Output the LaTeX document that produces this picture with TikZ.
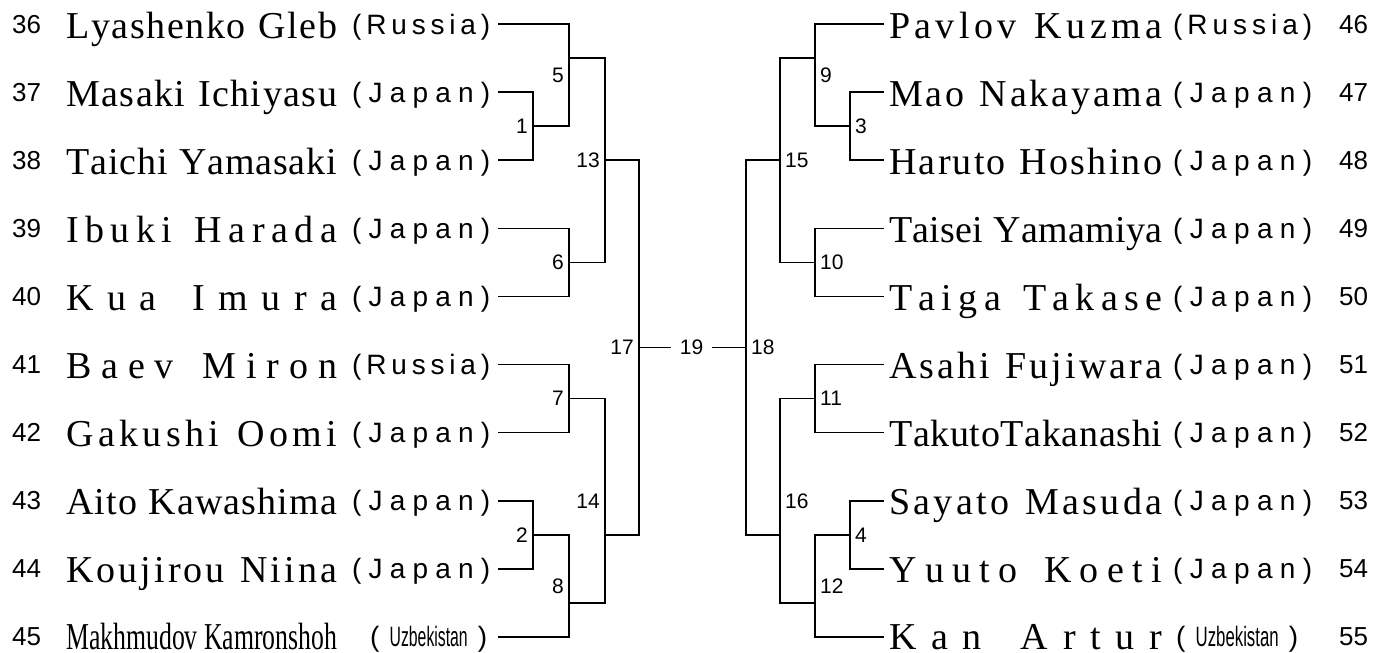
\documentclass[tikz,border=0pt]{standalone}
\usepackage{fontspec}
\usepackage{graphicx}
\setmainfont{Liberation Serif}
\newfontfamily\ctyfont{Liberation Sans}
\makeatletter
\newcommand\spr[2]{\hbox to #1{\@tfor\spr@c:=#2\do{\spr@c\hfil}\unskip}}
\makeatother
\newsavebox\fitbox
\newcommand\xfit[2]{\sbox\fitbox{#2}\pgfmathsetmacro\xfitf{#1/\wd\fitbox}\scalebox{\xfitf}[1]{\usebox\fitbox}}
\tikzset{
  nm/.style={anchor=base west, inner sep=0pt, font=\fontsize{38}{40}\selectfont},
  ct/.style={anchor=base west, inner sep=0pt, font=\ctyfont\fontsize{28}{30}\selectfont},
  num/.style={anchor=base west, inner sep=0pt, font=\ctyfont\fontsize{26}{28}\selectfont},
  lbl/.style={inner sep=0pt, font=\ctyfont\fontsize{21}{23}\selectfont},
  lbll/.style={lbl, anchor=east},
  lblr/.style={lbl, anchor=west},
  br/.style={line width=1.5pt, line join=miter}
}
\newcommand\lrow[4]{%
  \path (12,{24+68.11*#1+9}) node[num] (ln#1) {#2};
  \path (66,{24+68.11*#1+14}) node[nm] (lname#1) {\spr{271pt}{#3}};
  \path (352,{24+68.11*#1+10}) node[ct] (lc#1) {\spr{138pt}{#4}};
  \coordinate (L#1) at (498,{24+68.11*#1});
}
\newcommand\rrow[4]{%
  \coordinate (R#1) at (884,{24+68.11*#1});
  \path (889,{24+68.11*#1+14}) node[nm] (rname#1) {\spr{273pt}{#3}};
  \path (1173,{24+68.11*#1+10}) node[ct] (rc#1) {\spr{139pt}{#4}};
  \path (1339,{24+68.11*#1+9}) node[num] (rn#1) {#2};
}
\begin{document}
\begin{tikzpicture}[x=1pt,y=-1pt]
\useasboundingbox (0,0) rectangle (1376,653);
% left side rows
\lrow{0}{36}{Lyashenko~Gleb}{(Russia)}
\lrow{1}{37}{Masaki~Ichiyasu}{(Japan)}
\lrow{2}{38}{Taichi~Yamasaki}{(Japan)}
\lrow{3}{39}{Ibuki~Harada}{(Japan)}
\lrow{4}{40}{Kua~Imura}{(Japan)}
\lrow{5}{41}{Baev~Miron}{(Russia)}
\lrow{6}{42}{Gakushi~Oomi}{(Japan)}
\lrow{7}{43}{Aito~Kawashima}{(Japan)}
\lrow{8}{44}{Koujirou~Niina}{(Japan)}
\path (12,{24+68.11*9+9}) node[num] (ln9) {45};
\path (66,{24+68.11*9+13}) node[nm] (lname9) {\xfit{271pt}{Makhmudov Kamronshoh}};
\path (370,{24+68.11*9+9.5}) node[ct] (lc9) {\hbox to 117pt{(\hfil\xfit{78pt}{Uzbekistan}\hfil)}};
\coordinate (L9) at (498,{24+68.11*9});
% right side rows
\rrow{0}{46}{Pavlov~Kuzma}{(Russia)}
\rrow{1}{47}{Mao~Nakayama}{(Japan)}
\rrow{2}{48}{Haruto~Hoshino}{(Japan)}
\rrow{3}{49}{Taisei~Yamamiya}{(Japan)}
\rrow{4}{50}{Taiga~Takase}{(Japan)}
\rrow{5}{51}{Asahi~Fujiwara}{(Japan)}
\rrow{6}{52}{TakutoTakanashi}{(Japan)}
\rrow{7}{53}{Sayato~Masuda}{(Japan)}
\rrow{8}{54}{Yuuto~Koeti}{(Japan)}
\coordinate (R9) at (884,{24+68.11*9});
\path (889,{24+68.11*9+13}) node[nm] (rname9) {\spr{273pt}{Kan~Artur}};
\path (1176,{24+68.11*9+9.5}) node[ct] (rc9) {\hbox to 122pt{(\hfil\xfit{83pt}{Uzbekistan}\hfil)}};
\path (1339,{24+68.11*9+9}) node[num] (rn9) {55};
% left match points
\coordinate (m1) at (533,126.17);
\coordinate (m5) at (569,58.06);
\coordinate (m6) at (569,262.39);
\coordinate (m13) at (605,160.22);
\coordinate (m7) at (569,398.61);
\coordinate (m2) at (533,534.83);
\coordinate (m8) at (569,602.94);
\coordinate (m14) at (605,534.83);
\coordinate (m17) at (639,347.5);
% right match points
\coordinate (m3) at (850,126.17);
\coordinate (m9) at (815,58.06);
\coordinate (m10) at (815,262.39);
\coordinate (m15) at (780,160.22);
\coordinate (m11) at (815,398.61);
\coordinate (m4) at (850,534.83);
\coordinate (m12) at (815,602.94);
\coordinate (m16) at (780,534.83);
\coordinate (m18) at (746,347.5);
% left brackets
\draw[br] (L1) -| (m1) |- (L2);
\draw[br] (L0) -| (m5) |- (m1);
\draw[br] (L3) -| (m6) |- (L4);
\draw[br] (m5) -| (m13) |- (m6);
\draw[br] (L5) -| (m7) |- (L6);
\draw[br] (L7) -| (m2) |- (L8);
\draw[br] (m2) -| (m8) |- (L9);
\draw[br] (m7) -| (m14) |- (m8);
\draw[br] (m13) -| (m17) |- (m14);
% right brackets
\draw[br] (R1) -| (m3) |- (R2);
\draw[br] (R0) -| (m9) |- (m3);
\draw[br] (R3) -| (m10) |- (R4);
\draw[br] (m9) -| (m15) |- (m10);
\draw[br] (R5) -| (m11) |- (R6);
\draw[br] (R7) -| (m4) |- (R8);
\draw[br] (m4) -| (m12) |- (R9);
\draw[br] (m11) -| (m16) |- (m12);
\draw[br] (m15) -| (m18) |- (m16);
% final
\node[lbl, inner xsep=9pt] (n19) at (691.5,347.5) {19};
\draw[br] (m17) -- (n19);
\draw[br] (n19) -- (m18);
% left labels
\node[lbll] (lb1) at (528,126.17) {1};
\node[lbll] (lb5) at (564,75.1) {5};
\node[lbll] (lb6) at (564,262.39) {6};
\node[lbll] (lb13) at (600,160.2) {13};
\node[lbll] (lb7) at (564,398.61) {7};
\node[lbll] (lb2) at (528,534.83) {2};
\node[lbll] (lb8) at (564,586.5) {8};
\node[lbll] (lb14) at (600,501.3) {14};
\node[lbll] (lb17) at (634,347.5) {17};
% right labels
\node[lblr] (lb3) at (855,126.17) {3};
\node[lblr] (lb9) at (820,75.1) {9};
\node[lblr] (lb10) at (820,262.39) {10};
\node[lblr] (lb15) at (785,160.2) {15};
\node[lblr] (lb11) at (820,398.61) {11};
\node[lblr] (lb4) at (855,534.83) {4};
\node[lblr] (lb12) at (820,586.5) {12};
\node[lblr] (lb16) at (785,501.3) {16};
\node[lblr] (lb18) at (751,347.5) {18};
\end{tikzpicture}
\end{document}
